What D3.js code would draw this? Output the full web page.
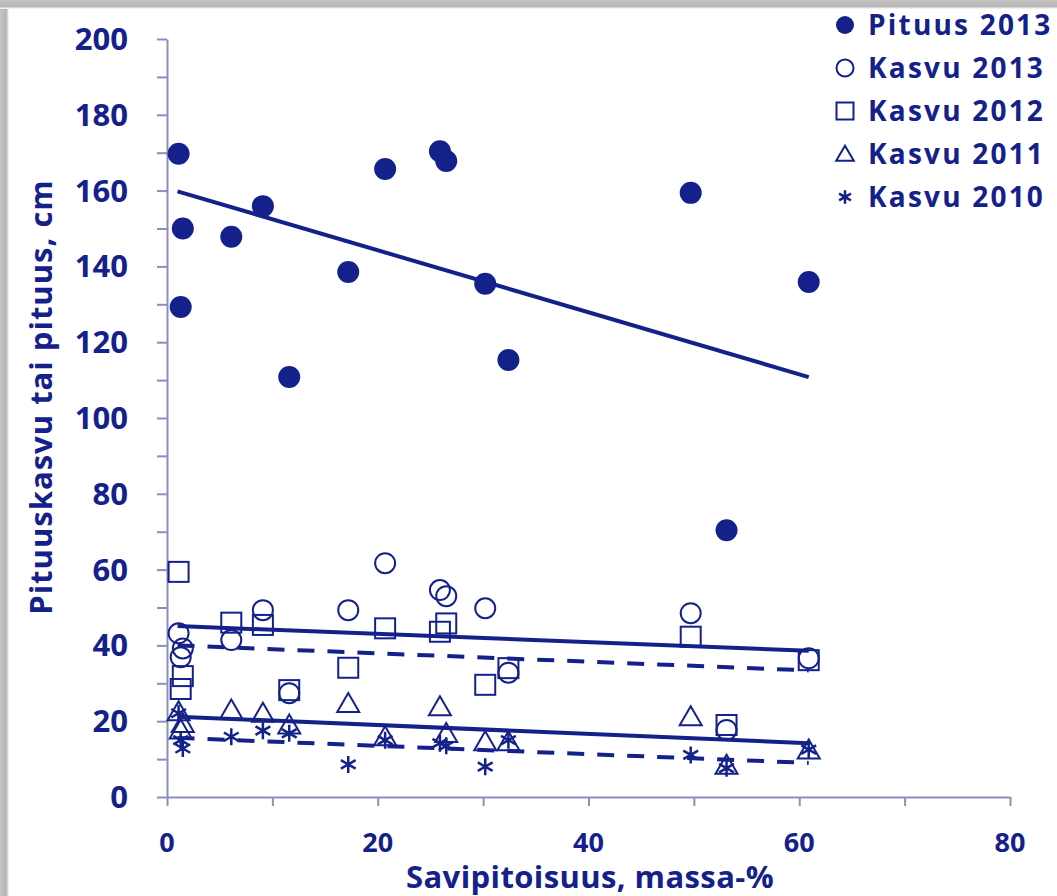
<!DOCTYPE html>
<html>
<head>
<meta charset="utf-8">
<script src="https://cdn.jsdelivr.net/npm/d3@7"></script>
<style>
  body { margin: 0; background: #fff; }
  svg text { font-family: "Open Sans", Lato, sans-serif; font-weight: bold; fill: #14218a; }
</style>
</head>
<body>
<div id="chart"></div>
<script>
// clay content of the 15 sites (x), shared by every series
var clay = [1.1, 1.3, 1.5, 6.1, 9.1, 11.6, 17.2, 20.7, 25.9, 26.5, 30.2, 32.4, 49.7, 53.1, 60.9];

var pituus2013 = [169.7, 129.3, 150.0, 147.8, 155.9, 110.8, 138.5, 165.7, 170.4, 167.8, 135.4, 115.3, 159.4, 70.4, 135.9];
var kasvu2013 = [43.2, 36.9, 39.2, 41.4, 49.3, 27.4, 49.3, 61.7, 54.6, 53.0, 49.8, 32.8, 48.5, 17.7, 36.6];
var kasvu2012 = [59.4, 28.5, 31.9, 46.0, 45.4, 28.2, 34.1, 44.5, 43.6, 45.8, 29.6, 34.0, 42.3, 19.0, 36.1];
var kasvu2011 = [22.5, 17.7, 19.4, 23.0, 22.1, 19.0, 24.7, 15.9, 23.8, 16.8, 14.6, 14.6, 21.2, 8.4, 12.4];
var kasvu2010 = [22.1, 15.0, 12.8, 15.9, 17.5, 16.8, 8.6, 15.0, 14.2, 13.5, 8.0, 15.0, 11.1, 7.6, 12.5];

// trend line end points
var trendPituus = [[1.0, 159.8], [60.9, 110.8]];
var trend2013 = [[1.0, 45.1], [60.9, 38.6]];
var trend2012 = [[1.0, 40.0], [60.9, 33.4]];
var trend2011 = [[1.0, 21.2], [60.9, 14.2]];
var trend2010 = [[1.0, 15.6], [60.9, 9.0]];

var xTicks = [0, 20, 40, 60, 80];
var yTicks = [0, 20, 40, 60, 80, 100, 120, 140, 160, 180, 200];

var legendLabels = ["Pituus 2013", "Kasvu 2013", "Kasvu 2012", "Kasvu 2011", "Kasvu 2010"];

const navy = "#14218a";
const axisColor = "#8a8fc0";

const W = 1057, H = 896;
const margin = {top: 39, right: 47, bottom: 99, left: 167};
const width = W - margin.left - margin.right,
      height = H - margin.top - margin.bottom;

var svg = d3.select("#chart").append("svg")
  .attr("width", W)
  .attr("height", H);

// gray frame shadow on the top and left edge
var defs = svg.append("defs");
var gl = defs.append("linearGradient").attr("id", "shadeL").attr("x1", 0).attr("x2", 1).attr("y1", 0).attr("y2", 0);
gl.append("stop").attr("offset", "0%").attr("stop-color", "#c4c4c4");
gl.append("stop").attr("offset", "70%").attr("stop-color", "#b4b4b4");
gl.append("stop").attr("offset", "100%").attr("stop-color", "#ffffff");
var gt = defs.append("linearGradient").attr("id", "shadeT").attr("x1", 0).attr("x2", 0).attr("y1", 0).attr("y2", 1);
gt.append("stop").attr("offset", "0%").attr("stop-color", "#c4c4c4");
gt.append("stop").attr("offset", "70%").attr("stop-color", "#b4b4b4");
gt.append("stop").attr("offset", "100%").attr("stop-color", "#ffffff");
svg.append("rect").attr("x", 0).attr("y", 0).attr("width", 9).attr("height", H).attr("fill", "url(#shadeL)");
svg.append("rect").attr("x", 0).attr("y", 0).attr("width", W).attr("height", 9).attr("fill", "url(#shadeT)");

var g = svg.append("g")
  .attr("transform", `translate(${margin.left},${margin.top})`);

var xScale = d3.scaleLinear().domain([0, 80]).range([0, width]);
var yScale = d3.scaleLinear().domain([0, 200]).range([height, 0]);

// axes: minor ticks every 10, labels every 20
var xAxis = g.append("g")
  .attr("transform", `translate(0,${height})`)
  .call(d3.axisBottom(xScale).tickValues(d3.range(0, 81, 10)).tickSize(9).tickSizeOuter(0).tickFormat(""));
var yAxis = g.append("g")
  .call(d3.axisLeft(yScale).tickValues(d3.range(0, 201, 10)).tickSize(10).tickSizeOuter(0).tickFormat(""));
[xAxis, yAxis].forEach(function(a) {
  a.select(".domain").attr("stroke", axisColor).attr("stroke-width", 2);
  a.selectAll(".tick line").attr("stroke", axisColor).attr("stroke-width", 2);
});

g.append("g").selectAll("text")
  .data(xTicks)
  .join("text")
  .attr("x", d => xScale(d))
  .attr("y", height + 55)
  .attr("text-anchor", "middle")
  .style("font-size", "27px")
  .text(d => d);

g.append("g").selectAll("text")
  .data(yTicks)
  .join("text")
  .attr("x", -39)
  .attr("y", d => yScale(d) + 11)
  .attr("text-anchor", "end")
  .style("font-size", "31px")
  .text(d => d);

// axis titles
svg.append("text")
  .attr("x", 590)
  .attr("y", 888)
  .attr("text-anchor", "middle")
  .style("font-size", "31px")
  .style("letter-spacing", "0.4px")
  .text("Savipitoisuus, massa-%");

svg.append("text")
  .attr("transform", "translate(52,397) rotate(-90)")
  .attr("text-anchor", "middle")
  .style("font-size", "31px")
  .style("letter-spacing", "1px")
  .text("Pituuskasvu tai pituus, cm");

// trend lines
var line = d3.line().x(d => xScale(d[0])).y(d => yScale(d[1]));
var trends = [
  {pts: trendPituus, dash: null},
  {pts: trend2013, dash: null},
  {pts: trend2012, dash: "17,13"},
  {pts: trend2011, dash: null},
  {pts: trend2010, dash: "17,13"}
];

// marker shapes
function drawMarker(sel, type, s) {
  if (type == "filled") {
    sel.append("circle").attr("r", s).attr("fill", navy);
  } else if (type == "circle") {
    sel.append("circle").attr("r", s).attr("fill", "none").attr("stroke", navy).attr("stroke-width", 2);
  } else if (type == "square") {
    sel.append("rect").attr("x", -s).attr("y", -s).attr("width", 2 * s).attr("height", 2 * s)
      .attr("fill", "none").attr("stroke", navy).attr("stroke-width", 2);
  } else if (type == "triangle") {
    var h = s * 1.9;
    sel.append("path").attr("d", `M0,${-h * 0.55}L${s * 1.1},${h * 0.45}L${-s * 1.1},${h * 0.45}Z`)
      .attr("fill", "none").attr("stroke", navy).attr("stroke-width", 2);
  } else {
    var a = s * 0.85;
    sel.append("path").attr("d", `M0,${-a}V${a}M${-a * 0.87},${-a * 0.5}L${a * 0.87},${a * 0.5}M${-a * 0.87},${a * 0.5}L${a * 0.87},${-a * 0.5}`)
      .attr("fill", "none").attr("stroke", navy).attr("stroke-width", 2.5);
  }
}

var series = [
  {vals: pituus2013, type: "filled", size: 11},
  {vals: kasvu2013, type: "circle", size: 10},
  {vals: kasvu2012, type: "square", size: 10},
  {vals: kasvu2011, type: "triangle", size: 10},
  {vals: kasvu2010, type: "star", size: 10}
];

series.forEach(function(s) {
  g.append("g").selectAll("g")
    .data(s.vals.map((v, i) => [clay[i], v]))
    .join("g")
    .attr("transform", d => `translate(${xScale(d[0])},${yScale(d[1])})`)
    .each(function() { drawMarker(d3.select(this), s.type, s.size); });
});

trends.forEach(function(t) {
  g.append("path")
    .attr("d", line(t.pts))
    .attr("fill", "none")
    .attr("stroke", navy)
    .attr("stroke-width", 4)
    .attr("stroke-dasharray", t.dash);
});

// legend
var legendSizes = [9, 8.5, 8.5, 8, 8];
var lg = svg.append("g").selectAll("g")
  .data(legendLabels)
  .join("g")
  .attr("transform", (d, i) => `translate(845,${25 + i * 43})`);
lg.each(function(d, i) {
  drawMarker(d3.select(this), series[i].type, legendSizes[i]);
});
lg.append("text")
  .attr("x", 23)
  .attr("y", 10)
  .style("font-size", "28px")
  .style("letter-spacing", "2.2px")
  .text(d => d);
</script>
</body>
</html>
